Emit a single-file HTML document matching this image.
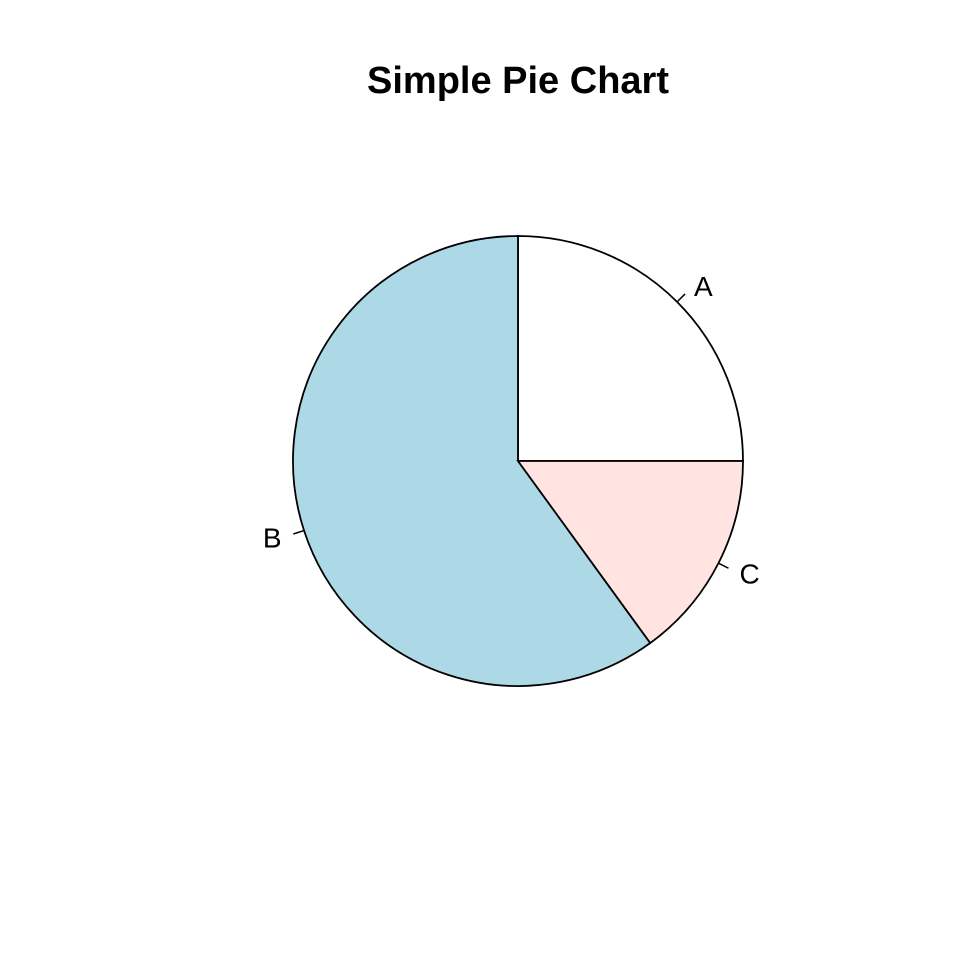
<!DOCTYPE html>
<html>
<head>
<meta charset="utf-8">
<style>
  html, body { margin: 0; padding: 0; background: #fff; }
  svg { display: block; }
  text { font-family: "Liberation Sans", Arial, sans-serif; fill: #000; }
</style>
</head>
<body>
<svg id="chart" width="960" height="960" viewBox="0 0 960 960">
  <text x="518" y="93" text-anchor="middle" font-size="38" font-weight="bold">Simple Pie Chart</text>
  <g id="slices"></g>
  <g id="labels"></g>
</svg>
<script>
const categories = ["A", "B", "C"];
const values = [25, 60, 15];
const colors = ["#FFFFFF", "#ADD8E6", "#FFE4E1"];

const cx = 518, cy = 461, r = 225;
const NS = "http://www.w3.org/2000/svg";
const total = values.reduce((a, b) => a + b, 0);
function pt(angleDeg, rad) {
  const a = angleDeg * Math.PI / 180;
  return [cx + rad * Math.cos(a), cy - rad * Math.sin(a)];
}
const gS = document.getElementById("slices");
const gL = document.getElementById("labels");
let start = 0;
values.forEach((v, i) => {
  const sweep = v / total * 360;
  const end = start + sweep;
  const [x1, y1] = pt(start, r);
  const [x2, y2] = pt(end, r);
  const large = sweep > 180 ? 1 : 0;
  const path = document.createElementNS(NS, "path");
  path.setAttribute("d", `M${cx},${cy} L${x1},${y1} A${r},${r} 0 ${large} 0 ${x2},${y2} Z`);
  path.setAttribute("fill", colors[i]);
  path.setAttribute("stroke", "#000");
  path.setAttribute("stroke-width", "1.8");
  
  
  gS.appendChild(path);

  const mid = (start + end) / 2;
  const [t1x, t1y] = pt(mid, r);
  const [t2x, t2y] = pt(mid, r * 1.05);
  const tick = document.createElementNS(NS, "line");
  tick.setAttribute("x1", t1x); tick.setAttribute("y1", t1y);
  tick.setAttribute("x2", t2x); tick.setAttribute("y2", t2y);
  tick.setAttribute("stroke", "#000");
  tick.setAttribute("stroke-width", "1.5");
  
  
  gL.appendChild(tick);

  const [lx, ly] = pt(mid, r * 1.1);
  const cosm = Math.cos(mid * Math.PI / 180);
  const t = document.createElementNS(NS, "text");
  t.setAttribute("x", lx + (cosm >= 0 ? 1 : -1));
  t.setAttribute("y", ly + 10);
  t.setAttribute("font-size", "28");
  t.setAttribute("text-anchor", cosm >= 0 ? "start" : "end");
  t.textContent = categories[i];
  
  
  gL.appendChild(t);

  start = end;
});
</script>
</body>
</html>
